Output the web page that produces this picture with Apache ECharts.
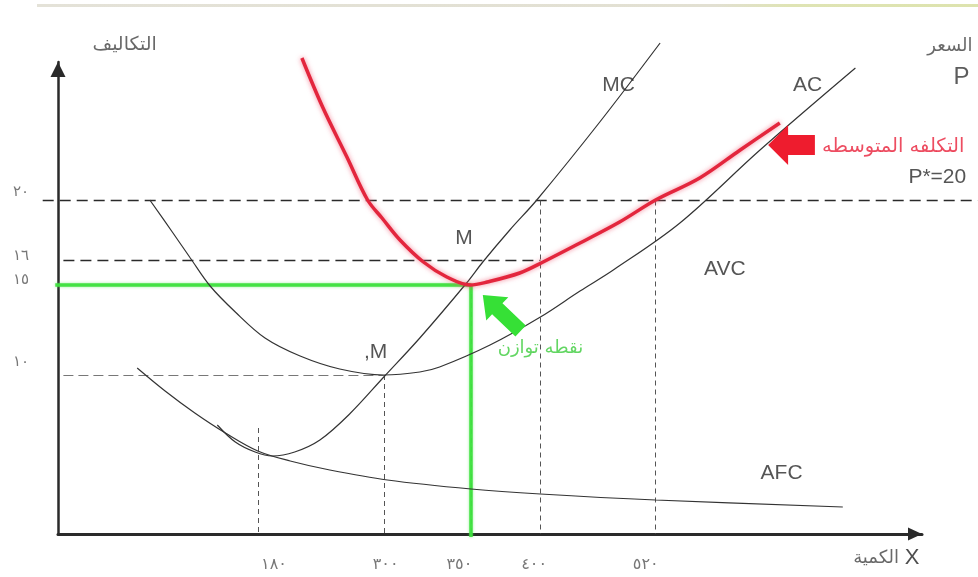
<!DOCTYPE html>
<html><head><meta charset="utf-8">
<script src="https://cdn.jsdelivr.net/npm/echarts@6/dist/echarts.min.js"></script>
<style>html,body{margin:0;padding:0;background:#fff}#c{width:978px;height:577px}</style>
</head><body><div id="c"></div>
<script>
// ---- data (diagram units: quantity axis 0..96, cost axis 0..94) ----
const xTickLabels = ['١٨٠', '٣٠٠', '٣٥٠', '٤٠٠', '٥٢٠'];
const xTickPos    = [22.2, 36.2, 45.9, 53.6, 66.4];
const yTickLabels = ['٢٠', '١٦', '١٥', '١٠'];
const yTickPos    = [66.3, 54.4, 49.4, 31.4];

const acCurve = [[27.1,94.8],[29.4,85],[32.1,75],[34.4,66.4],[36,62.8],[38,58.4],[40.6,54],[43.2,51],[45.8,49.4],[47.7,50],[51.3,51.8],[53.9,54],[58,57.8],[62.4,62],[66.4,66.4],[71.3,70.8],[75.8,76.4],[80.2,81.8]];
const avcCurve = [[10.2,66.4],[12.7,60],[14.7,54.8],[16.9,49.2],[19.7,44],[23,38.8],[26.9,35.2],[31.3,32.6],[36.2,31.4],[40.2,32],[42.4,33],[48,37.4],[53.6,43],[58,48.2],[61.7,52.4],[69.1,61.8],[78,76.4],[88.6,92.8]];
const mcCurve  = [[17.7,21.4],[19.7,18],[21.9,16],[23.8,15.2],[26.3,16],[29.1,18.4],[32.4,23.6],[36.2,31],[40.2,38.8],[45.4,49.8],[47.2,54],[50.2,60.4],[53.2,66.4],[60.2,82],[66.9,97.8]];
const afcCurve = [[8.8,32.8],[11.9,28.2],[15.2,23.8],[18.6,19.8],[22.2,16.2],[25.8,14.2],[30.2,12.4],[36.6,10.4],[45.9,8.6],[53.6,7.6],[66.4,6.4],[87.2,5]];

const curveNames = ['MC', 'AC', 'AVC', 'AFC'];
const pointNames = ['M', '\u200E,M'];
const axisTexts = ['التكاليف', 'X', 'الكمية', 'P', 'السعر'];
const noteTexts = ['P*=20', 'التكلفه المتوسطه', 'نقطه توازن'];

// ---- layout (positions in diagram units) ----
const L = {
  curveLabels: [[62.3,89.4],[83.3,89.4],[74.1,52.6],[80.4,11.8]],
  pointLabels: [[45.1,58.8],[35.3,36]],
  axisTextAt: [[7.4,97.4],[94.9,-5.2],[90.9,-5.2],[100.4,91],[99.1,97.2]],
  noteAt: [[97.7,71],[92.8,77],[53.6,36.8]],
  xLabelAt: [24.0, 36.4, 44.6, 52.9, 65.3], xLabelY: -6.6,
  yLabelAt: [68, 55.2, 50.4, 34], yLabelX: -4.1,
  redArrow: [84.1,77.4,78.9,77.4],
  greenArrow: [51.4,40.2,47.2,47.4]
};

const AR = "'DejaVu Sans', sans-serif";
const LAT = "'Liberation Sans', Arial, sans-serif";

function guide(a, b, style, z) {
  return {type:'lines', coordinateSystem:'cartesian2d', silent:true, clip:false, z: z || 2,
          symbol:'none', lineStyle: Object.assign({opacity:1}, style), data:[{coords:[a, b]}]};
}
function curve(pts, style, z) {
  return {type:'line', data: pts, symbol:'none', smooth:0.35, silent:true, clip:false, z: z || 4, lineStyle: style};
}
function arrow(vals, color, shaftW, headW, headL) {
  return {type:'custom', coordinateSystem:'cartesian2d', silent:true, z:6, clip:false,
    data:[vals],
    renderItem: function(params, api) {
      const t = api.coord([api.value(0), api.value(1)]);
      const h = api.coord([api.value(2), api.value(3)]);
      const dx = h[0]-t[0], dy = h[1]-t[1], len = Math.hypot(dx, dy);
      const ux = dx/len, uy = dy/len, px = -uy, py = ux;
      const bx = h[0]-ux*headL, by = h[1]-uy*headL;
      const pts = [
        [t[0]+px*shaftW/2, t[1]+py*shaftW/2],
        [bx+px*shaftW/2, by+py*shaftW/2],
        [bx+px*headW/2, by+py*headW/2],
        [h[0], h[1]],
        [bx-px*headW/2, by-py*headW/2],
        [bx-px*shaftW/2, by-py*shaftW/2],
        [t[0]-px*shaftW/2, t[1]-py*shaftW/2]
      ];
      return {type:'polygon', shape:{points: pts}, style:{fill: color}};
    }};
}
const dashDark = {color:'#2a2a2a', width:1.4, type:[11,6]};
const dashGray = {color:'#777', width:1.2, type:[10,5]};
const dashV = {color:'#555', width:1, type:[5,4]};
const green = {color:'#3ee03e', width:3.5, opacity:0.95, type:'solid', shadowColor:'rgba(80,230,80,0.6)', shadowBlur:3};
const black = {color:'#333', width:1.2};

const labels = [];
function addLabel(text, at, font, size, color) {
  labels.push({value: at, label:{show:true, position:'inside', formatter: text, fontFamily: font, fontSize: size, color: color}});
}
curveNames.forEach((t,i) => addLabel(t, L.curveLabels[i], LAT, 21, '#2b2b2b'));
pointNames.forEach((t,i) => addLabel(t, L.pointLabels[i], LAT, 21, '#2b2b2b'));
addLabel(axisTexts[0], L.axisTextAt[0], AR, 19, '#444');
addLabel(axisTexts[1], L.axisTextAt[1], LAT, 22, '#222');
addLabel(axisTexts[2], L.axisTextAt[2], AR, 18, '#444');
addLabel(axisTexts[3], L.axisTextAt[3], LAT, 24, '#333');
addLabel(axisTexts[4], L.axisTextAt[4], AR, 18, '#444');
addLabel(noteTexts[0], L.noteAt[0], LAT, 21, '#2b2b2b');
addLabel(noteTexts[1], L.noteAt[1], AR, 19.5, '#e8203a');
addLabel(noteTexts[2], L.noteAt[2], AR, 18, '#3ccc3c');
xTickLabels.forEach((t,i) => addLabel(t, [L.xLabelAt[i], L.xLabelY], AR, 16, '#555'));
yTickLabels.forEach((t,i) => addLabel(t, [L.yLabelX, L.yLabelAt[i]], AR, 15, '#555'));

const top180 = afcCurve[4][1] + 4.6; // top of the 180 guide, just above AFC
const option = {
  animation: false,
  backgroundColor: '#ffffff',
  grid: {left:58, right:56, top:62, height:472},
  xAxis: {type:'value', min:0, max:96,
    axisLine:{onZero:false, symbol:['none','triangle'], symbolSize:[13,14], symbolOffset:[0,-7], lineStyle:{color:'#2a2a2a', width:3}},
    axisTick:{show:false}, axisLabel:{show:false}, splitLine:{show:false}},
  yAxis: {type:'value', min:-0.4, max:94,
    axisLine:{onZero:false, symbol:['none','triangle'], symbolSize:[15,15], symbolOffset:[0,-7.5], lineStyle:{color:'#2a2a2a', width:2.5}},
    axisTick:{show:false}, axisLabel:{show:false}, splitLine:{show:false}},
  graphic: [{type:'rect', left:37, top:4, shape:{width:941, height:3},
    style:{fill: new echarts.graphic.LinearGradient(0,0,1,0,[{offset:0,color:'#e4e2d8'},{offset:0.72,color:'#e2e0d2'},{offset:0.8,color:'#dfe4b4'},{offset:1,color:'#dde3ae'}])}}],
  series: [
    guide([-1.7, yTickPos[0]], [102.2, yTickPos[0]], dashDark),
    guide([0.6, yTickPos[1]], [xTickPos[3], yTickPos[1]], dashDark),
    guide([0.6, yTickPos[3]], [xTickPos[1], yTickPos[3]], dashGray),
    guide([xTickPos[0], top180], [xTickPos[0], -0.4], dashV),
    guide([xTickPos[1], yTickPos[3]], [xTickPos[1], -0.4], dashV),
    guide([xTickPos[2], yTickPos[2]], [xTickPos[2], -0.4], dashV),
    guide([xTickPos[3], yTickPos[0]], [xTickPos[3], -0.4], dashV),
    guide([xTickPos[4], yTickPos[0]], [xTickPos[4], -0.4], dashV),
    guide([-0.3, yTickPos[2]], [xTickPos[2], yTickPos[2]], green, 3),
    guide([xTickPos[2], yTickPos[2]], [xTickPos[2], -1], green, 3),
    curve(afcCurve, black),
    curve(mcCurve, black),
    curve(avcCurve, black),
    curve(acCurve, {color:'#e3263d', width:3.5, shadowColor:'rgba(240,90,115,0.75)', shadowBlur:5}, 5),
    arrow(L.redArrow, '#ee1c2e', 20, 40, 20),
    arrow(L.greenArrow, '#36e036', 15, 32, 20),
    {type:'scatter', clip:false, symbolSize:1, itemStyle:{color:'rgba(0,0,0,0)'}, silent:true, z:10, data: labels}
  ]
};
const chart = echarts.init(document.getElementById('c'), null, {renderer:'canvas'});
chart.setOption(option);
</script></body></html>
